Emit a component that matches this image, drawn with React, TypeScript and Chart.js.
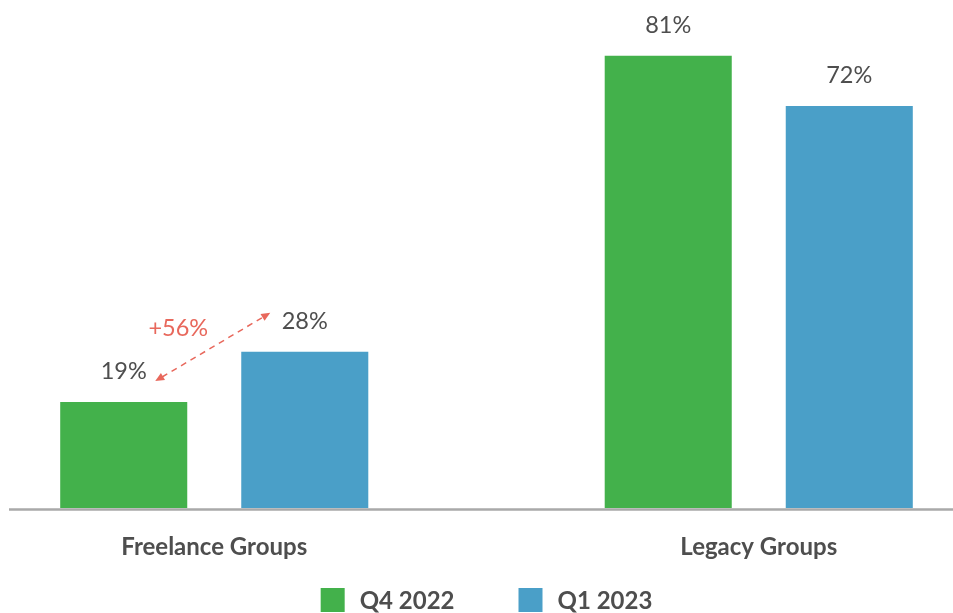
import React, { useEffect, useRef } from 'react';
import { Chart, registerables } from 'chart.js';

Chart.register(...registerables);

// ---- data ----
const categories = ['Freelance Groups', 'Legacy Groups'];
const seriesNames = ['Q4 2022', 'Q1 2023'];
const q4_2022 = [19, 81];
const q1_2023 = [28, 72];
const seriesColors = ['#43B14B', '#4A9FC8'];
const changeLabel = '+56%';

// ---- style / layout ----
const FONT = 'Lato, "Noto Sans", sans-serif';
const VIEW_W = 953;
const VIEW_H = 613;
const CANVAS_LEFT = -58; // chart canvas is wider than the view and clipped
const CANVAS_W = 1089;
const TEXT = '#4E4E4E';
const ACCENT = '#E8685C';

const valueLabels = {
  id: 'valueLabels',
  afterDatasetsDraw(chart: any) {
    const ctx = chart.ctx;
    ctx.save();
    ctx.font = `23.5px ${FONT}`;
    ctx.fillStyle = TEXT;
    ctx.textAlign = 'center';
    ctx.textBaseline = 'alphabetic';
    chart.data.datasets.forEach((ds: any, di: number) => {
      const meta = chart.getDatasetMeta(di);
      meta.data.forEach((bar: any, i: number) => {
        ctx.fillText(`${ds.data[i]}%`, bar.x, bar.y - 23);
      });
    });
    ctx.restore();
  },
};

const axisLine = {
  id: 'axisLine',
  afterDatasetsDraw(chart: any) {
    const ctx = chart.ctx;
    const y0 = chart.scales.y.getPixelForValue(0);
    ctx.save();
    ctx.strokeStyle = '#A9A9A9';
    ctx.lineWidth = 2.5;
    ctx.beginPath();
    ctx.moveTo(9 - CANVAS_LEFT, y0 + 1.25);
    ctx.lineTo(chart.width, y0 + 1.25);
    ctx.stroke();
    ctx.restore();
  },
};

function arrowHead(ctx: any, x: number, y: number, angle: number) {
  const len = 9;
  const half = 4;
  ctx.save();
  ctx.translate(x, y);
  ctx.rotate(angle);
  ctx.beginPath();
  ctx.moveTo(0, 0);
  ctx.lineTo(-len, -half);
  ctx.lineTo(-len, half);
  ctx.closePath();
  ctx.fill();
  ctx.restore();
}

const changeAnnotation = {
  id: 'changeAnnotation',
  afterDatasetsDraw(chart: any) {
    const ctx = chart.ctx;
    const g = chart.getDatasetMeta(0).data[0];
    const b = chart.getDatasetMeta(1).data[0];
    if (!g || !b) return;
    const sx = g.x + 31.5, sy = g.y - 21;
    const ex = b.x - 34.5, ey = b.y - 39;
    const ang = Math.atan2(ey - sy, ex - sx);
    const inset = 8;
    ctx.save();
    ctx.strokeStyle = ACCENT;
    ctx.fillStyle = ACCENT;
    ctx.lineWidth = 1.5;
    ctx.setLineDash([6, 5]);
    ctx.beginPath();
    ctx.moveTo(sx + Math.cos(ang) * inset, sy + Math.sin(ang) * inset);
    ctx.lineTo(ex - Math.cos(ang) * inset, ey - Math.sin(ang) * inset);
    ctx.stroke();
    ctx.setLineDash([]);
    arrowHead(ctx, ex, ey, ang);
    arrowHead(ctx, sx, sy, ang + Math.PI);
    ctx.font = `23.5px ${FONT}`;
    ctx.textAlign = 'center';
    ctx.textBaseline = 'alphabetic';
    const mx = (sx + ex) / 2, my = (sy + ey) / 2;
    ctx.fillText(changeLabel, mx - 34.5, my - 11);
    ctx.restore();
  },
};

const bottomLegend = {
  id: 'bottomLegend',
  afterDraw(chart: any) {
    const ctx = chart.ctx;
    const box = 24;
    const textGap = 15;
    const itemGap = 64;
    ctx.save();
    ctx.font = `bold 24px ${FONT}`;
    const items = chart.data.datasets.map((ds: any) => ({
      label: ds.label,
      color: ds.backgroundColor,
      tw: ctx.measureText(ds.label).width,
    }));
    const total =
      items.reduce((s: number, it: any) => s + box + textGap + it.tw, 0) +
      itemGap * (items.length - 1);
    const cx = (chart.chartArea.left + chart.chartArea.right) / 2;
    let x = cx - total / 2;
    const top = chart.height - 25;
    ctx.textAlign = 'left';
    ctx.textBaseline = 'middle';
    items.forEach((it: any) => {
      ctx.fillStyle = it.color;
      ctx.fillRect(x, top, box, box);
      ctx.fillStyle = TEXT;
      ctx.fillText(it.label, x + box + textGap, top + box / 2 + 1);
      x += box + textGap + it.tw + itemGap;
    });
    ctx.restore();
  },
};

export default function App() {
  const ref = useRef<HTMLCanvasElement | null>(null);

  useEffect(() => {
    if (!ref.current) return;
    const chart = new Chart(ref.current, {
      type: 'bar',
      data: {
        labels: categories,
        datasets: [
          {
            label: seriesNames[0],
            data: q4_2022,
            backgroundColor: seriesColors[0],
            barPercentage: 0.7017,
            categoryPercentage: 0.665,
          },
          {
            label: seriesNames[1],
            data: q1_2023,
            backgroundColor: seriesColors[1],
            barPercentage: 0.7017,
            categoryPercentage: 0.665,
          },
        ],
      },
      options: {
        responsive: false,
        maintainAspectRatio: false,
        animation: false,
        devicePixelRatio: 1,
        layout: { padding: { left: 0, right: 0, top: 0, bottom: 26 } },
        plugins: {
          legend: { display: false },
          tooltip: { enabled: false },
        },
        scales: {
          x: {
            grid: { display: false, drawTicks: false },
            border: { display: false },
            ticks: {
              padding: 25,
              color: TEXT,
              font: { family: FONT, size: 24, weight: 'bold', lineHeight: 1.2 },
            },
          },
          y: {
            display: false,
            min: 0,
            max: 91,
          },
        },
      },
      plugins: [axisLine, valueLabels, changeAnnotation, bottomLegend],
    });
    return () => chart.destroy();
  }, []);

  return (
    <div
      style={{
        position: 'absolute',
        left: 0,
        top: 0,
        width: VIEW_W,
        height: VIEW_H,
        overflow: 'hidden',
      }}
    >
      <canvas
        ref={ref}
        width={CANVAS_W}
        height={VIEW_H}
        style={{
          position: 'absolute',
          left: CANVAS_LEFT,
          top: 0,
          width: CANVAS_W,
          height: VIEW_H,
          display: 'block',
        }}
      />
    </div>
  );
}
